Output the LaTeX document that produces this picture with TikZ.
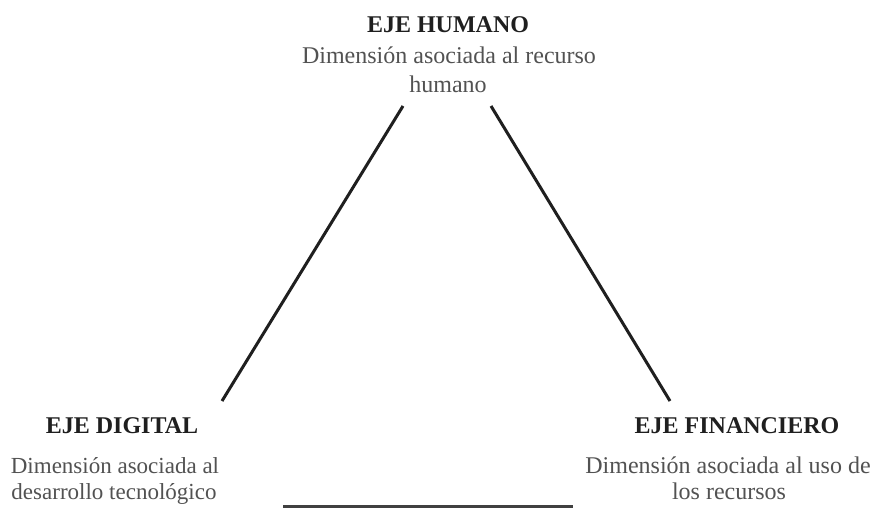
\documentclass[tikz,border=0pt]{standalone}
\usepackage{fontspec}
\setmainfont{Liberation Serif}
\begin{document}
\begin{tikzpicture}[x=1pt,y=-1pt,
  title/.style={font=\fontsize{24}{27}\selectfont\bfseries, text=black!88, inner sep=0pt, anchor=base},
  desc/.style={font=\fontsize{24}{27}\selectfont, text=black!68, inner sep=0pt, anchor=base},
  small desc/.style={desc, font=\fontsize{23}{26}\selectfont},
  side/.style={draw=black!88, line width=3pt},
  base line/.style={draw=black!75, line width=2.6pt}]
\useasboundingbox[fill=white] (0,0) rectangle (886,508);
% top block
\node[title] (hT) at (448,33) {EJE HUMANO};
\node[desc] (hD1) at (449,64) {Dimensión asociada al recurso};
\node[desc] (hD2) at (448,93) {humano};
% left block
\node[title] (dT) at (122,433) {EJE DIGITAL};
\node[small desc] (dD1) at (115,473) {Dimensión asociada al};
\node[small desc] (dD2) at (114,499) {desarrollo tecnológico};
% right block
\node[title] (fT) at (737,433) {EJE FINANCIERO};
\node[desc] (fD1) at (728,473) {Dimensión asociada al uso de};
\node[desc] (fD2) at (729,499) {los recursos};
% connectors
\coordinate (lTop) at (403,106);
\coordinate (lBot) at (222,401);
\coordinate (rTop) at (491,106);
\coordinate (rBot) at (670,401);
\coordinate (bL) at (283,506.5);
\coordinate (bR) at (573,506.5);
\draw[side] (lBot) -- (lTop);
\draw[side] (rTop) -- (rBot);
\draw[base line] (bL) -- (bR);
\end{tikzpicture}
\end{document}
